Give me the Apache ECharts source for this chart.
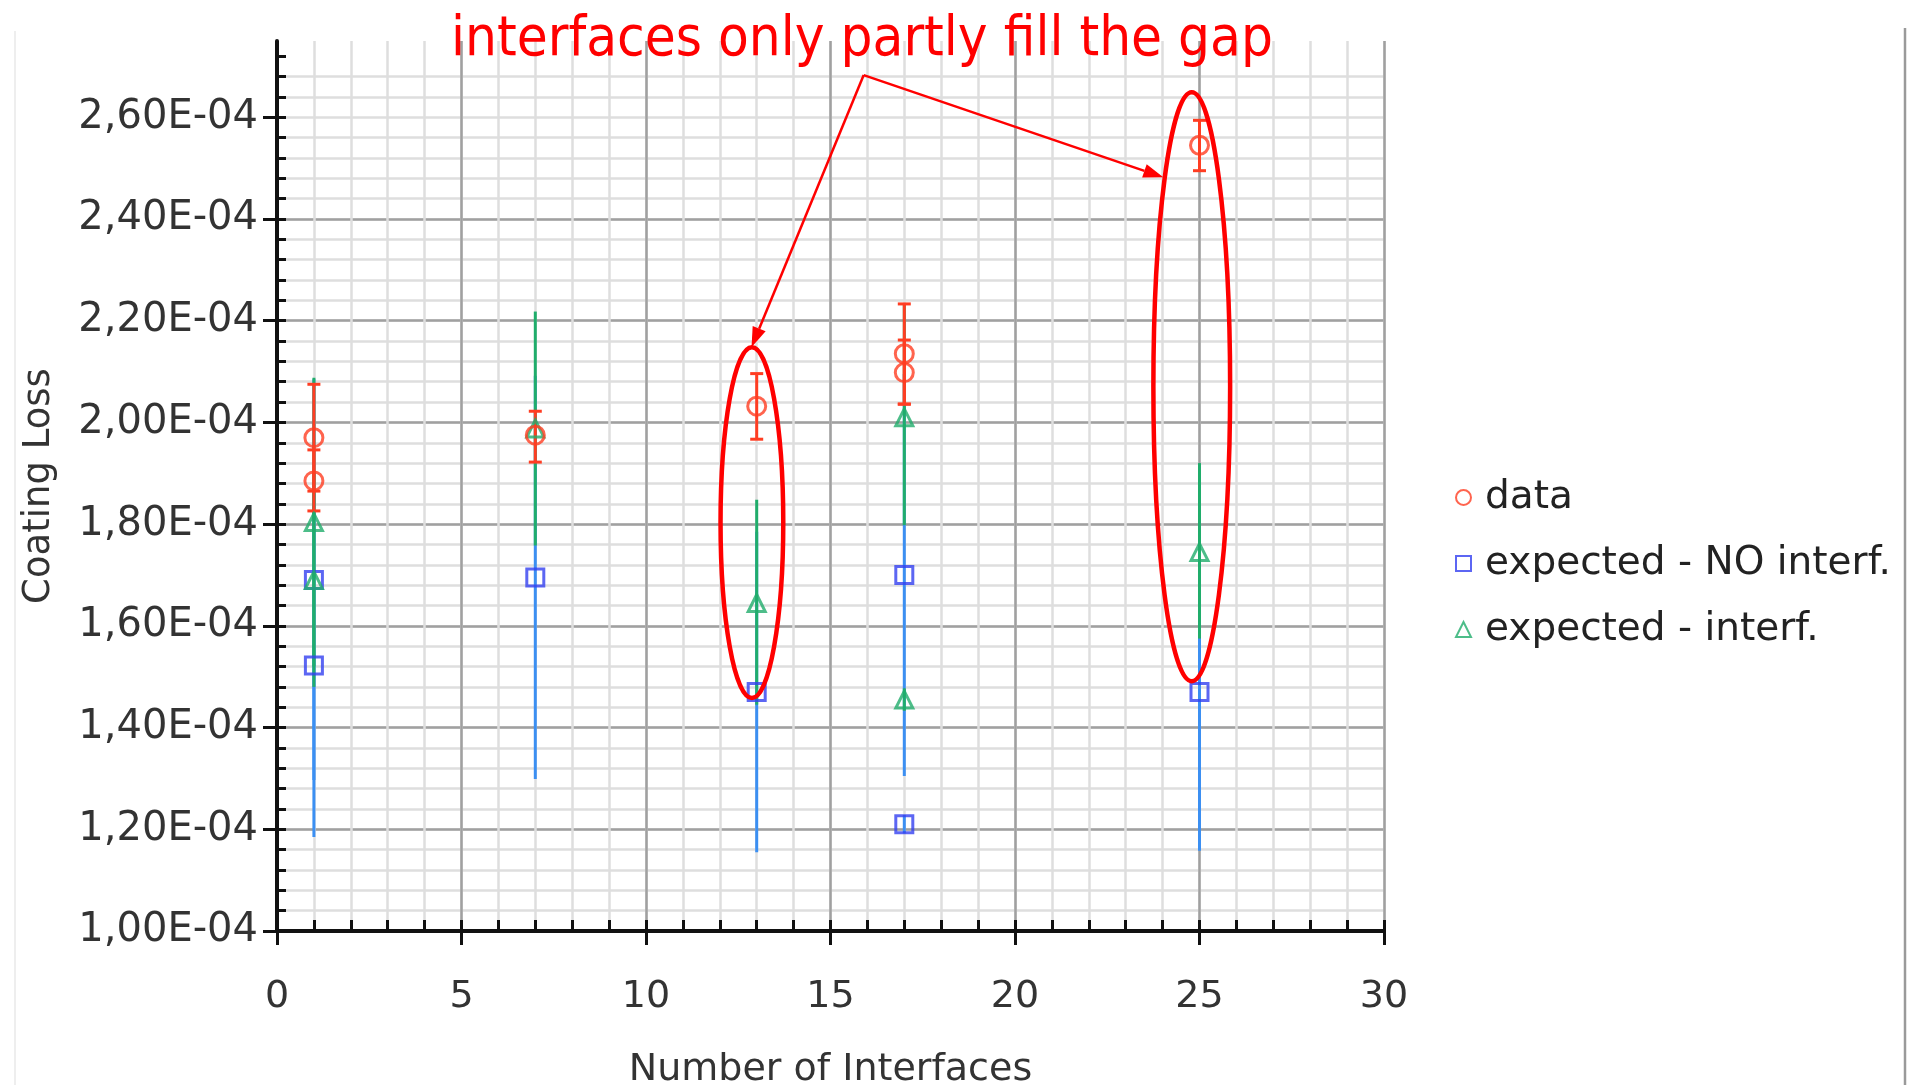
<!DOCTYPE html>
<html>
<head>
<meta charset="utf-8">
<title>Coating Loss vs Number of Interfaces</title>
<script src="https://cdn.jsdelivr.net/npm/echarts@6/dist/echarts.min.js"></script>
<style>
    html, body { margin: 0; padding: 0; background: #fff; }
    #chart { width: 1907px; height: 1085px; }
</style>
</head>
<body>
<div id="chart"></div>
<script>
    // coating loss values are read in units of 1E-04
    var E4 = 1e-4;

    // measured data, with error bars
    var dataX  = [1, 1, 7, 13, 17, 17, 25];
    var dataY  = [1.970, 1.885, 1.975, 2.032, 2.135, 2.098, 2.545];
    var dataLo = [1.865, 1.826, 1.922, 1.967, 2.036, 2.036, 2.495];
    var dataHi = [2.075, 1.946, 2.022, 2.096, 2.233, 2.162, 2.594];

    // expected without interface loss
    var noIntX  = [1, 1, 7, 13, 17, 17, 25];
    var noIntY  = [1.690, 1.522, 1.695, 1.470, 1.700, 1.210, 1.470];
    var noIntLo = [1.297, 1.185, 1.299, 1.155, 1.305, 1.192, 1.158];
    var noIntHi = [2.085, 1.860, 2.092, 1.785, 2.095, 1.228, 1.782];

    // expected with interface loss
    var intX  = [1, 1, 7, 13, 17, 17, 25];
    var intY  = [1.804, 1.690, 1.988, 1.645, 2.010, 1.455, 1.745];
    var intLo = [1.520, 1.480, 1.758, 1.445, 1.798, 1.433, 1.575];
    var intHi = [2.088, 1.900, 2.218, 1.848, 2.233, 1.477, 1.920];

    // axis ticks
    var xMajorTicks = [0, 5, 10, 15, 20, 25, 30];
    var yMajorTicks = [1.0, 1.2, 1.4, 1.6, 1.8, 2.0, 2.2, 2.4, 2.6];
    var yMax = 2.75;

    // red annotation: rings round x=13 and x=25, arrows from the caption
    var ringX  = [12.87, 24.79];
    var ringY  = [1.803, 2.070];
    var ringRx = [0.85, 1.04];
    var ringRy = [0.345, 0.579];
    var arrowFromX = [15.90, 15.90];
    var arrowFromY = [2.683, 2.683];
    var arrowToX   = [12.86, 24.02];
    var arrowToY   = [2.148, 2.482];
    var caption = 'interfaces only partly fill the gap';

    var RED = '#ff3d22', BLUE = '#3340f0', BLUE_BAR = '#3b8ff2', GREEN = '#20ad6b', NOTE = '#ff0000';
    var FONT = 'DejaVu Sans';

    function sci(v) {
        var exp = Math.floor(Math.log10(v) + 1e-9);
        var m = v / Math.pow(10, exp);
        var e = String(Math.abs(exp));
        if (e.length < 2) e = '0' + e;
        return m.toFixed(2).replace('.', ',') + 'E' + (exp < 0 ? '-' : '+') + e;
    }

    function points(xs, ys) {
        return xs.map(function (x, i) { return [x, ys[i] * E4]; });
    }

    function bars(xs, lo, hi) {
        return xs.map(function (x, i) { return [x, lo[i] * E4, hi[i] * E4]; });
    }

    function barRenderer(color, cap) {
        return function (params, api) {
            var x = api.value(0);
            var p0 = api.coord([x, api.value(1)]);
            var p1 = api.coord([x, api.value(2)]);
            var style = {stroke: color, lineWidth: 3};
            var kids = [{type: 'line', shape: {x1: p0[0], y1: p0[1], x2: p1[0], y2: p1[1]}, style: style}];
            if (cap) {
                [p0, p1].forEach(function (p) {
                    kids.push({type: 'line', shape: {x1: p[0] - cap, y1: p[1], x2: p[0] + cap, y2: p[1]}, style: style});
                });
            }
            return {type: 'group', children: kids};
        };
    }

    function ringRenderer(params, api) {
        var c = api.coord([api.value(0), api.value(1)]);
        var s = api.size([api.value(2), api.value(3)]);
        return {
            type: 'ellipse',
            shape: {cx: c[0], cy: c[1], rx: s[0], ry: s[1]},
            style: {fill: 'none', stroke: NOTE, lineWidth: 4.5}
        };
    }

    function arrowRenderer(params, api) {
        var a = api.coord([api.value(0), api.value(1)]);
        var b = api.coord([api.value(2), api.value(3)]);
        var dx = b[0] - a[0], dy = b[1] - a[1];
        var len = Math.sqrt(dx * dx + dy * dy);
        var ux = dx / len, uy = dy / len;
        var head = 20, half = 7;
        var bx = b[0] - ux * head, by = b[1] - uy * head;
        return {
            type: 'group',
            children: [
                {type: 'line', shape: {x1: a[0], y1: a[1], x2: bx, y2: by}, style: {stroke: NOTE, lineWidth: 2.5}},
                {type: 'polygon', shape: {points: [[b[0], b[1]], [bx - uy * half, by + ux * half], [bx + uy * half, by - ux * half]]},
                    style: {fill: NOTE}}
            ]
        };
    }

    var yMajor = yMajorTicks.map(function (v) { return v * E4; });
    var yMinor = [];
    for (var k = 0; 1.0 + k * 0.04 <= yMax + 1e-9; k++) {
        yMinor.push(Math.round((1.0 + k * 0.04) * 100) / 100 * E4);
    }

    var tickStyle = {color: '#111', width: 3};

    var option = {
        animation: false,
        backgroundColor: '#fff',
        grid: {left: 277, right: 523, top: 41, bottom: 154, containLabel: false, outerBoundsMode: 'none'},
        xAxis: [
            {
                type: 'value', position: 'bottom', min: 0, max: 30, interval: 1,
                axisLine: {show: false},
                axisLabel: {show: false},
                axisTick: {show: true, inside: true, length: 11, lineStyle: tickStyle},
                splitLine: {show: true, showMinLine: false, lineStyle: {color: '#dedede', width: 2.5}}
            },
            {
                type: 'value', position: 'bottom', min: 0, max: 30, interval: 5,
                axisLine: {show: true, onZero: false, lineStyle: {color: '#111', width: 4}},
                axisTick: {show: true, inside: false, length: 14, lineStyle: tickStyle, customValues: xMajorTicks},
                axisLabel: {margin: 47, fontSize: 38, color: '#333', fontFamily: FONT, customValues: xMajorTicks},
                splitLine: {show: true, showMinLine: false, lineStyle: {color: '#a0a0a0', width: 2.5}},
                name: 'Number of Interfaces', nameLocation: 'middle', nameGap: 120,
                nameTextStyle: {fontSize: 38, color: '#333', fontFamily: FONT}
            }
        ],
        yAxis: [
            {
                type: 'value', position: 'left', min: 1.0 * E4, max: yMax * E4, interval: 0.04 * E4,
                axisLine: {show: false},
                axisLabel: {show: false},
                axisTick: {show: true, inside: true, length: 9, lineStyle: tickStyle, customValues: yMinor},
                splitLine: {show: true, showMinLine: false, showMaxLine: false, lineStyle: {color: '#dedede', width: 2.5}}
            },
            {
                type: 'value', position: 'left', min: 1.0 * E4, max: yMax * E4, interval: 0.2 * E4,
                axisLine: {show: true, onZero: false, lineStyle: {color: '#111', width: 4}},
                axisTick: {show: true, inside: false, length: 14, lineStyle: tickStyle, customValues: yMajor},
                axisLabel: {margin: 19, fontSize: 40, color: '#333', fontFamily: FONT,
                    customValues: yMajor, formatter: sci},
                splitLine: {show: true, showMinLine: false, showMaxLine: false, lineStyle: {color: '#a0a0a0', width: 2.5}},
                name: 'Coating Loss', nameLocation: 'middle', nameGap: 219,
                nameTextStyle: {fontSize: 37, color: '#333', fontFamily: FONT}
            }
        ],
        legend: {
            orient: 'vertical', left: 1450, top: 473, itemWidth: 15, itemHeight: 15, itemGap: 27,
            textStyle: {fontSize: 39, color: '#222', fontFamily: FONT, padding: [0, 0, 0, 9]},
            data: ['data', 'expected - NO interf.', 'expected - interf.']
        },
        graphic: [
            {type: 'text', x: 862, y: 40, z: 100,
                style: {text: caption, fill: NOTE, align: 'center', verticalAlign: 'middle',
                    font: '56px "Liberation Sans Narrow", "DejaVu Sans Condensed", sans-serif'}},
            {type: 'line', shape: {x1: 15, y1: 31, x2: 15, y2: 1085}, style: {stroke: '#eeeeee', lineWidth: 2}},
            {type: 'line', shape: {x1: 1905, y1: 28, x2: 1905, y2: 1085}, style: {stroke: '#9a9a9a', lineWidth: 2.5}}
        ],
        series: [
            {name: 'noInt bars', type: 'custom', silent: true, renderItem: barRenderer(BLUE_BAR, 0),
                encode: {x: 0, y: [1, 2]}, data: bars(noIntX, noIntLo, noIntHi)},
            {name: 'int bars', type: 'custom', silent: true, renderItem: barRenderer(GREEN, 0),
                encode: {x: 0, y: [1, 2]}, data: bars(intX, intLo, intHi)},
            {name: 'data bars', type: 'custom', silent: true, renderItem: barRenderer(RED, 6.5),
                encode: {x: 0, y: [1, 2]}, data: bars(dataX, dataLo, dataHi)},
            {name: 'expected - NO interf.', type: 'scatter', symbol: 'rect', symbolSize: 17,
                itemStyle: {color: 'rgba(255,255,255,0)', borderColor: BLUE, borderWidth: 3},
                data: points(noIntX, noIntY)},
            {name: 'expected - interf.', type: 'scatter', symbol: 'triangle', symbolSize: 17,
                itemStyle: {color: 'rgba(255,255,255,0)', borderColor: GREEN, borderWidth: 3},
                data: points(intX, intY)},
            {name: 'data', type: 'scatter', symbol: 'circle', symbolSize: 18,
                itemStyle: {color: 'rgba(255,255,255,0)', borderColor: RED, borderWidth: 3},
                data: points(dataX, dataY)},
            {name: 'rings', type: 'custom', silent: true, renderItem: ringRenderer, z: 5,
                encode: {x: 0, y: 1},
                data: ringX.map(function (x, i) { return [x, ringY[i] * E4, ringRx[i], ringRy[i] * E4]; })},
            {name: 'arrows', type: 'custom', silent: true, renderItem: arrowRenderer, z: 5,
                encode: {x: [0, 2], y: [1, 3]},
                data: arrowToX.map(function (x, i) {
                    return [arrowFromX[i], arrowFromY[i] * E4, x, arrowToY[i] * E4];
                })}
        ]
    };

    var myChart = echarts.init(document.getElementById('chart'));
    myChart.setOption(option);
</script>
</body>
</html>
